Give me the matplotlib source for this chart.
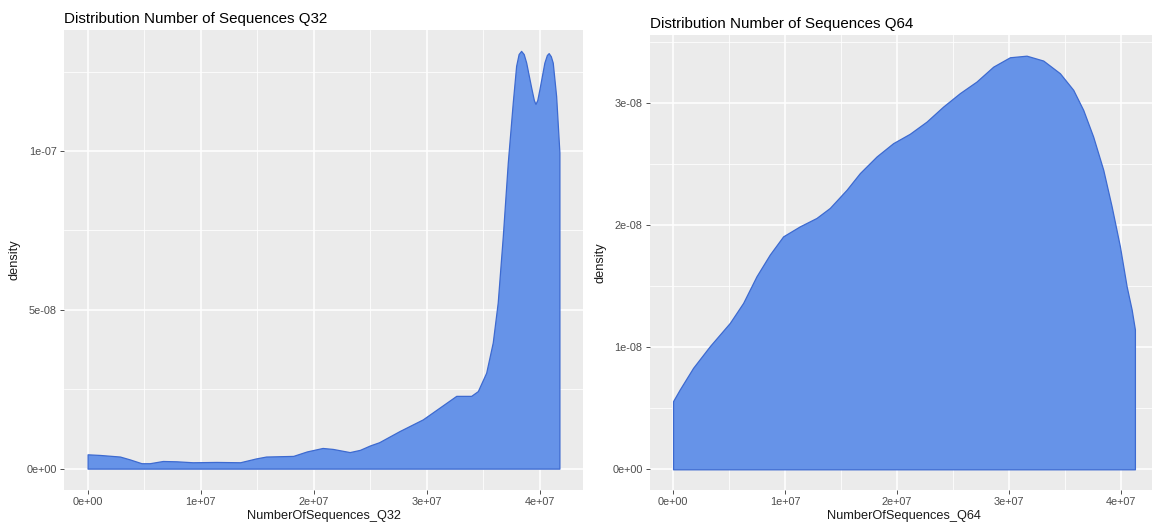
import matplotlib
matplotlib.use("Agg")
import matplotlib.pyplot as plt
from matplotlib.ticker import FixedLocator, FuncFormatter

plt.rcParams['font.family'] = ['Liberation Sans', 'DejaVu Sans']

# Kernel density estimate of NumberOfSequences_Q32 (x, density)
q32_x = [0.0, 1.09e6, 2.86e6, 3.74e6, 4.77e6, 5.5e6, 6.66e6, 7.87e6, 9.3e6,
         1.14e7, 1.35e7, 1.49e7, 1.58e7, 1.82e7, 1.94e7, 2.08e7, 2.17e7,
         2.32e7, 2.41e7, 2.50e7, 2.58e7, 2.76e7, 2.967e7, 3.115e7, 3.263e7,
         3.395e7, 3.454e7, 3.528e7, 3.586e7, 3.63e7, 3.675e7, 3.719e7,
         3.763e7, 3.793e7, 3.815e7, 3.837e7, 3.86e7, 3.882e7, 3.926e7,
         3.95e7, 3.964e7, 3.98e7, 3.999e7, 4.043e7, 4.065e7, 4.081e7,
         4.10e7, 4.117e7, 4.147e7, 4.176e7]
q32_density = [4.5e-9, 4.3e-9, 3.8e-9, 2.9e-9, 1.7e-9, 1.7e-9, 2.4e-9, 2.3e-9,
               2.0e-9, 2.1e-9, 2.0e-9, 3.2e-9, 3.8e-9, 4.0e-9, 5.4e-9, 6.5e-9,
               6.2e-9, 5.2e-9, 5.9e-9, 7.3e-9, 8.3e-9, 1.18e-8, 1.55e-8,
               1.92e-8, 2.29e-8, 2.29e-8, 2.44e-8, 3.02e-8, 3.97e-8, 5.23e-8,
               7.32e-8, 9.63e-8, 1.152e-7, 1.268e-7, 1.305e-7, 1.315e-7,
               1.305e-7, 1.278e-7, 1.20e-7, 1.16e-7, 1.148e-7, 1.16e-7,
               1.194e-7, 1.278e-7, 1.302e-7, 1.308e-7, 1.298e-7, 1.278e-7,
               1.173e-7, 9.95e-8]

# Kernel density estimate of NumberOfSequences_Q64 (x, density)
q64_x = [0.0, 6.0e5, 1.79e6, 3.28e6, 5.07e6, 6.26e6, 7.45e6, 8.64e6, 9.83e6,
         1.132e7, 1.281e7, 1.40e7, 1.55e7, 1.669e7, 1.818e7, 1.966e7,
         2.115e7, 2.265e7, 2.413e7, 2.562e7, 2.711e7, 2.86e7, 3.009e7,
         3.158e7, 3.307e7, 3.456e7, 3.575e7, 3.664e7, 3.753e7, 3.843e7,
         3.918e7, 3.992e7, 4.052e7, 4.097e7, 4.126e7]
q64_density = [5.59e-9, 6.55e-9, 8.32e-9, 1.009e-8, 1.20e-8, 1.364e-8,
               1.582e-8, 1.76e-8, 1.909e-8, 1.991e-8, 2.06e-8, 2.142e-8,
               2.291e-8, 2.428e-8, 2.564e-8, 2.673e-8, 2.75e-8, 2.85e-8,
               2.973e-8, 3.083e-8, 3.178e-8, 3.30e-8, 3.377e-8, 3.39e-8,
               3.35e-8, 3.246e-8, 3.11e-8, 2.946e-8, 2.727e-8, 2.455e-8,
               2.155e-8, 1.827e-8, 1.50e-8, 1.309e-8, 1.146e-8]

q32_xticks = [0, 1e7, 2e7, 3e7, 4e7]
q32_yticks = [0, 5e-8, 1e-7]
q64_xticks = [0, 1e7, 2e7, 3e7, 4e7]
q64_yticks = [0, 1e-8, 2e-8, 3e-8]

titles = ["Distribution Number of Sequences Q32",
          "Distribution Number of Sequences Q64"]
xlabels = ["NumberOfSequences_Q32", "NumberOfSequences_Q64"]

FILL = '#6693E8'
EDGE = '#3D6AD0'
PANEL = '#EBEBEB'
TEXT_DARK = '#1A1A1A'
TICK_TEXT = '#4D4D4D'

W, H = 1152, 526
fig = plt.figure(figsize=(W / 100, H / 100), dpi=100)
fig.patch.set_facecolor('white')


def sci_label(v, _pos=None):
    if v == 0:
        return '0e+00'
    return f'{v:.0e}'


def style_axes(ax, xs, ys, xticks, yticks):
    xmin, xmax = min(min(xs), 0), max(xs)
    ymin, ymax = 0, max(ys)
    dx = (xmax - xmin) * 0.05
    dy = (ymax - ymin) * 0.05
    ax.set_xlim(xmin - dx, xmax + dx)
    ax.set_ylim(ymin - dy, ymax + dy)
    ax.set_facecolor(PANEL)
    for sp in ax.spines.values():
        sp.set_visible(False)
    ax.xaxis.set_major_locator(FixedLocator(xticks))
    ax.yaxis.set_major_locator(FixedLocator(yticks))
    xstep = xticks[1] - xticks[0]
    ystep = yticks[1] - yticks[0]
    xminor = [t + xstep / 2 for t in xticks] + [xticks[0] - xstep / 2]
    yminor = [t + ystep / 2 for t in yticks] + [yticks[0] - ystep / 2]
    ax.xaxis.set_minor_locator(FixedLocator(xminor))
    ax.yaxis.set_minor_locator(FixedLocator(yminor))
    ax.xaxis.set_major_formatter(FuncFormatter(sci_label))
    ax.yaxis.set_major_formatter(FuncFormatter(sci_label))
    ax.grid(which='major', color='white', linewidth=1.1, zorder=0)
    ax.grid(which='minor', color='white', linewidth=0.55, zorder=0)
    ax.set_axisbelow(True)
    ax.tick_params(which='major', length=2.8, width=0.6, color='#333333',
                   labelsize=7.8, labelcolor=TICK_TEXT, pad=2.5)
    ax.tick_params(which='minor', length=0)


def draw_panel(ax, xs, ys, xticks, yticks, xlabel):
    style_axes(ax, xs, ys, xticks, yticks)
    ax.fill_between(xs, 0, ys, facecolor=FILL, edgecolor=EDGE,
                    linewidth=0.9, zorder=2)
    ax.set_xlabel(xlabel, fontsize=9.2, color=TEXT_DARK, labelpad=2)
    ax.set_ylabel('density', fontsize=9.2, color=TEXT_DARK, labelpad=4)


# left panel: Q32
ax1 = fig.add_axes([64 / W, 1 - 489.5 / H, 519 / W, 459.5 / H])
draw_panel(ax1, q32_x, q32_density, q32_xticks, q32_yticks, xlabels[0])
fig.text(64 / W, 1 - 23 / H, titles[0], fontsize=10.9, color='black',
         ha='left', va='baseline')

# right panel: Q64
ax2 = fig.add_axes([650 / W, 1 - 490 / H, 508 / W, 455 / H])
draw_panel(ax2, q64_x, q64_density, q64_xticks, q64_yticks, xlabels[1])
fig.text(650 / W, 1 - 28 / H, titles[1], fontsize=10.9, color='black',
         ha='left', va='baseline')

fig.savefig('out.png', dpi=100, facecolor='white')
